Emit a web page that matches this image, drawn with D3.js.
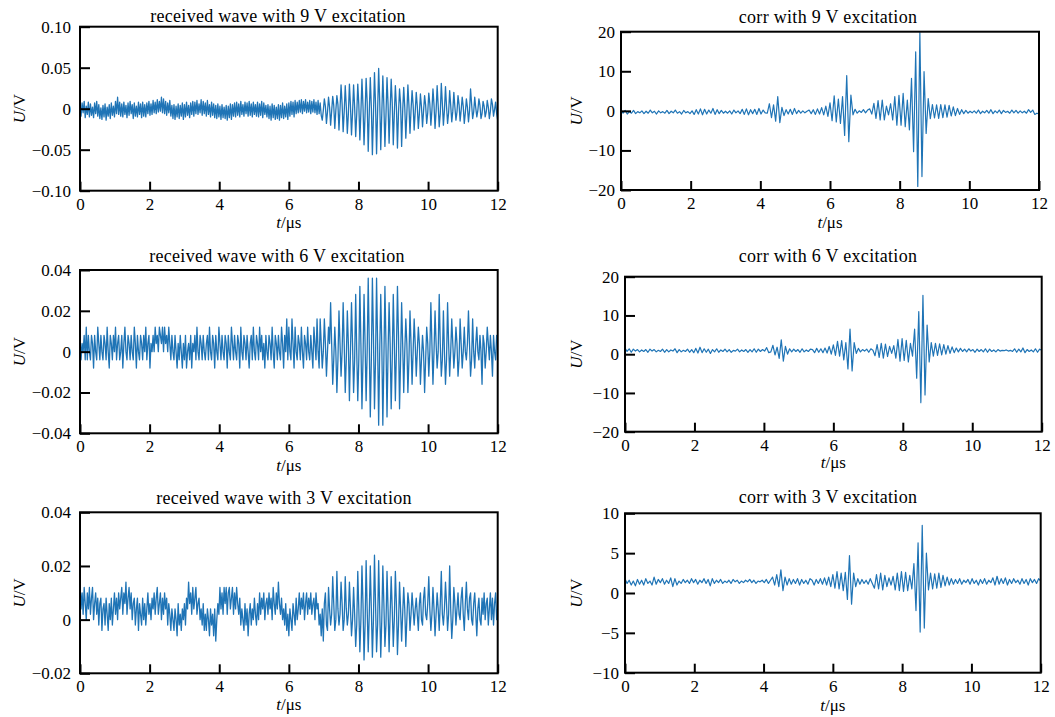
<!DOCTYPE html>
<html>
<head>
<meta charset="utf-8">
<script src="https://cdn.jsdelivr.net/npm/d3@7"></script>
<style>
  body { margin: 0; background: #fff; }
  svg { display: block; }
  svg text { font-family: 'Liberation Serif', 'Times New Roman', serif; fill: #000; }
</style>
</head>
<body>
<svg id="chart" width="1055" height="717"></svg>
<script>
// samples, from 0 to 12 µs
const receivedStep = 0.03 // µs between received samples
const corrStep = 0.06 // µs between correlation samples
const timeTicks = [0, 2, 4, 6, 8, 10, 12]

// received waves, in mV
const received9V = [
  4, -9, 7, -5, 9, -11, 3, -7, 8, -10,
  6, -8, 2, -11, 7, -6, 9, -9, 5, -12,
  1, -13, 4, -10, 6, -14, 2, -9, 5, -12,
  7, -8, 3, -10, 9, -6, 14, -7, 8, -9,
  6, -10, 8, -7, 4, -11, 7, -8, 9, -6,
  5, -12, 7, -9, 3, -10, 8, -7, 6, -11,
  8, -9, 5, -10, 7, -6, 9, -8, 6, -7,
  10, -5, 8, -6, 11, -4, 9, -3, 14, -5,
  12, -6, 9, -8, 7, -5, 10, -9, 4, -12,
  5, -13, 3, -10, 6, -12, 4, -9, 7, -13,
  5, -10, 8, -8, 4, -11, 7, -7, 9, -9,
  8, -6, 10, -7, 6, -5, 11, -8, 9, -6,
  7, -9, 10, -7, 5, -10, 8, -8, 6, -11,
  4, -12, 6, -10, 3, -13, 5, -11, 2, -12,
  4, -14, 3, -11, 6, -13, 5, -9, 7, -10,
  8, -8, 6, -10, 9, -7, 5, -9, 8, -6,
  7, -9, 9, -8, 6, -10, 8, -7, 5, -9,
  8, -10, 6, -8, 9, -11, 7, -7, 4, -10,
  5, -12, 3, -14, 6, -11, 4, -13, 2, -12,
  5, -14, 4, -11, 7, -12, 3, -10, 6, -13,
  7, -9, 9, -7, 8, -10, 10, -6, 8, -5,
  10, -4, 11, -6, 9, -3, 11, -5, 8, -4,
  10, -6, 9, -4, 11, -5, 8, -7, 10, -6,
  7, -8, -14, -2, 12, 3, -18, -4, 14, 2,
  -20, -3, 15, 4, -24, -2, 16, 5, -26, 0,
  29, 6, -28, -4, 28, 3, -30, -6, 30, 4,
  -32, -5, 29, 2, -34, -7, 30, 5, -38, -4,
  36, 3, -44, -6, 37, 8, -52, -5, 38, 2,
  -56, -8, 44, 6, -55, -3, 49, 10, -50, -6,
  40, 4, -46, -8, 38, 5, -42, -2, 36, 7,
  -44, -6, 28, 3, -48, -5, 24, 6, -46, -3,
  26, 2, -36, -6, 29, 4, -30, -2, 22, 5,
  -26, -4, 20, 3, -24, -6, 18, 2, -22, -3,
  16, 4, -18, -5, 19, 6, -20, -2, 24, 5,
  -24, -3, 28, 4, -22, -6, 31, 6, -20, -2,
  27, 3, -18, -5, 22, 4, -16, -3, 20, 2,
  -14, -4, 16, 5, -15, -2, 14, 3, -18, -5,
  12, 2, -16, -3, 24, 6, -12, -4, 14, 1,
  -10, -2, 12, 4, -12, -6, 9, 3, -10, -4,
  10, 2, -12, -3, 12, 5, -9, -1, 8, -6,
  -14
]
const received6V = [
  8, -4, 4, 0, 8, -4, 12, -4, 8, 0,
  -4, 8, 4, -8, 8, 0, -4, 12, 4, -4,
  8, 0, -4, 8, 4, -4, 12, 0, -8, 8,
  4, -4, 8, 0, 12, -4, 4, 8, -4, 0,
  8, -8, 4, 12, 0, -4, 8, 4, -4, 8,
  0, -4, 12, 4, -8, 8, 0, -4, 8, 4,
  -4, 8, 0, 12, -4, 4, 8, -8, 4, 0,
  8, 0, 12, 4, 8, 0, 12, 8, 4, 12,
  0, 12, 4, 8, 0, 12, 4, -4, 8, 0,
  -4, 8, 0, -8, 4, -4, 8, 0, -8, 4,
  -4, 8, -8, 0, 4, -4, 8, -8, 4, 0,
  8, -4, 12, 0, -4, 8, 4, -4, 8, 0,
  -4, 4, 8, -4, 12, 0, -4, 8, 4, -8,
  8, 0, -4, 12, 4, -4, 8, 0, -4, 8,
  4, -8, 8, 0, -4, 12, 4, -4, 8, 0,
  -4, 8, 4, -8, 12, 0, -4, 8, 4, -4,
  8, 0, -8, 4, 8, -4, 12, 0, -4, 8,
  4, -4, 12, 0, 8, -4, 4, -8, 8, 0,
  -4, 8, 4, -4, 12, 0, -8, 8, 4, -4,
  8, 0, -4, 12, 4, -8, 8, 0, 16, -4,
  12, 0, -4, 16, 4, -8, 12, 0, -4, 8,
  4, -4, 12, 0, -8, 8, 4, -4, 12, 0,
  -4, 8, 0, -8, 12, 4, -4, 16, 0, -8,
  16, 4, -8, 0, 16, 4, -12, 0, 12, 4,
  24, 4, -16, -4, 12, 0, -20, -4, 20, 4,
  -12, 0, 24, 4, -20, -4, 20, 4, -24, 0,
  24, 4, -20, -4, 28, 0, -24, -4, 32, 4,
  -28, -4, 28, 4, -24, 0, 36, 4, -32, -4,
  36, 8, -28, -4, 36, 4, -36, 0, 28, 4,
  -36, -4, 32, 4, -32, 0, 24, 4, -28, -4,
  28, 4, -24, 0, 32, 8, -28, -4, 24, 4,
  -20, 0, 16, 4, -20, -4, 20, 4, -16, 0,
  16, 4, -12, 0, 12, 4, -16, -4, 8, 0,
  -20, -4, 12, 4, -12, 0, 24, 4, -16, 0,
  20, 4, -8, 0, 28, 4, -12, -4, 20, 0,
  -16, -4, 24, 4, -12, 0, 16, 4, -8, 0,
  12, 4, -12, -4, 16, 4, -8, 0, 12, 0,
  -4, 4, 20, 4, -12, -4, 16, 0, -8, 4,
  12, 0, -4, 8, 0, -16, 8, 4, -8, 0,
  12, 4, -4, 8, 0, -12, 8, 0, -4, 8,
  4
]
const received3V = [
  14, 4, 10, 2, 12, 6, 0, 10, 4, 12,
  2, 8, 12, 0, 6, 10, 2, 8, -2, 6,
  8, -4, 4, 6, -2, 8, 2, -4, 6, 0,
  8, -2, 4, 10, 2, 8, 0, 10, 4, 8,
  12, 2, 10, 6, 14, 2, 8, 12, 4, 10,
  0, 6, 8, -2, 4, 8, -4, 6, 2, -2,
  8, 0, 6, -2, 4, 10, 2, 6, 0, 8,
  4, 10, 2, 8, 12, 2, 6, 10, 0, 8,
  2, 10, 4, 8, -2, 6, 2, -4, 4, 0,
  -4, 4, 0, -6, 6, -2, 2, -4, 4, 0,
  6, -2, 8, 4, 14, 6, 10, 2, 12, 4,
  8, 12, 2, 6, 8, 0, 4, -2, 6, -4,
  2, -4, 4, 0, -6, 4, -2, 2, -6, 4,
  -8, 0, 6, 2, 12, 4, 10, 2, 12, 6,
  12, 2, 10, 12, 4, 8, 12, 2, 10, 4,
  12, 6, 2, 8, -2, 4, 0, -4, 6, -2,
  4, -6, 2, 6, -2, 4, 0, 8, 2, -2,
  6, 0, 10, 2, 8, 4, 10, 0, 6, 8,
  2, 10, 4, 8, 0, 12, 6, 2, 10, 4,
  14, 6, 2, 8, 0, 4, -2, 6, -4, 2,
  -6, 4, 0, -4, 6, 2, -2, 8, 0, 4,
  10, 2, 8, 4, 10, 0, 6, 10, 2, 8,
  4, 10, 2, 6, 8, 0, 10, 4, 6, -2,
  2, -6, 4, -8, 6, 10, -2, -4, 12, 4,
  -2, 2, 16, 6, -4, 0, 18, 4, -2, 2,
  14, 6, -4, 0, 16, 4, -2, 2, 14, 4,
  -6, 0, 12, 2, -10, -2, 18, 4, -12, 0,
  20, 6, -15, -2, 22, 4, -12, 2, 20, 4,
  -14, 0, 24, 6, -12, -2, 22, 4, -14, 0,
  20, 6, -10, -2, 18, 4, -12, 2, 16, 4,
  -10, 0, 18, 6, -13, -2, 14, 4, -8, 2,
  12, 4, -10, 0, 10, 6, -4, 2, 10, 4,
  -2, 4, 8, 2, -4, 6, 10, 0, -2, 8,
  12, 2, 0, 6, 16, 4, -4, 2, 12, 4,
  -6, 2, 10, 4, -4, 6, 18, 2, -2, 4,
  14, 6, -4, 2, 20, 4, -7, 0, 12, 6,
  -2, 4, 10, 2, 0, 8, 12, 2, -4, 6,
  14, 4, 0, 8, 10, 0, -2, 6, 10, 2,
  -6, 4, 8, 0, -2, 8, 2, 10, 0, 6,
  8, -2, 4, 10, 0, 8, -2, 6, 10, 0,
  4
]

// correlation outputs
const corr9V = [
  0.2, -0.6, 0.1, -0.8, -0.2, -0.6, 0.1, -0.7, -0.2, -0.5,
  0.0, -0.7, -0.1, -0.6, 0.2, -0.5, -0.1, -0.8, 0.0, -0.5,
  -0.2, -0.6, 0.1, -0.7, -0.1, -0.5, 0.2, -0.6, -0.2, -0.8,
  0.1, -0.5, -0.2, -0.7, 0.0, -0.9, 0.3, -0.8, 0.5, -1.0,
  0.4, -0.8, 0.2, -0.6, 0.6, -0.9, 0.3, -0.7, 0.1, -0.6,
  -0.1, -0.6, 0.0, -0.8, 0.2, -0.5, 0.0, -0.7, 0.4, -0.9,
  0.5, -1.0, 0.3, -0.7, 0.4, -0.9, 0.6, -0.8, 0.2, -0.5,
  -0.6, 1.8, -1.7, 1.5, -2.6, 3.6, -3.0, 0.9, -1.2, 0.3,
  -0.8, 0.4, -0.9, 0.6, -0.7, 0.1, -0.6, 0.0, -0.5, -0.1,
  0.2, -0.7, 0.3, -0.9, 0.5, -0.8, 0.8, -1.0, 1.2, -1.4,
  2.0, -2.5, 3.8, -2.8, 3.0, -3.2, 3.6, -6.2, 8.9, -7.8,
  4.0, -1.0, 0.4, -0.6, 0.0, -0.4, 0.3, -0.5, 0.2, 0.5,
  -0.8, 1.9, -1.9, 2.6, -2.3, 2.7, -2.3, 1.2, -1.0, 1.8,
  -2.3, 3.6, -3.6, 3.9, -3.6, 4.4, -4.0, 2.7, -4.8, 8.2,
  -10.3, 14.9, -19.1, 19.8, -16.6, 9.9, -5.7, 3.1, -2.0, 1.6,
  -1.8, 1.5, -1.9, 1.6, -1.7, 1.5, -1.6, 1.4, -1.3, 1.0,
  -1.2, 0.6, -0.9, 0.3, -0.7, 0.1, -0.6, -0.1, -0.5, 0.0,
  -0.6, 0.2, -0.7, -0.1, -0.5, 0.1, -0.6, 0.3, -0.7, 0.0,
  -0.5, 0.2, -0.7, 0.1, -0.4, -0.1, -0.6, 0.2, -0.5, 0.1,
  -0.6, 0.0, -0.5, -0.1, -0.6, 0.3, -0.4, 0.2, -0.9, -0.6,
  -0.8
]
const corr6V = [
  1.6, 0.7, 1.4, 0.5, 1.3, 0.8, 1.2, 0.6, 1.1, 0.7,
  1.2, 0.5, 1.3, 0.8, 1.2, 0.6, 1.0, 0.7, 1.3, 0.5,
  1.2, 0.6, 1.1, 0.8, 1.4, 0.4, 1.2, 0.6, 1.0, 0.7,
  1.3, 0.5, 1.2, 0.4, 1.5, 0.3, 1.8, 0.4, 1.4, 0.5,
  1.3, 0.2, 1.2, 0.6, 1.4, 0.5, 1.1, 0.7, 1.3, 0.6,
  1.2, 0.5, 1.0, 0.8, 1.3, 0.6, 1.1, 0.7, 1.2, 0.5,
  1.2, 0.6, 1.4, 0.5, 1.3, 0.7, 1.2, 0.8, 1.7, 0.4,
  0.6, 2.3, -0.2, 1.8, -1.1, 3.7, -1.8, 2.0, 0.0, 1.4,
  0.6, 1.3, 0.7, 1.2, 0.5, 1.4, 0.6, 1.1, 0.7, 1.3,
  1.2, 0.4, 1.5, 0.5, 1.4, 0.4, 1.6, 0.3, 2.0, 0.0,
  2.4, -0.3, 3.3, -0.5, 3.5, -1.5, 3.0, -3.8, 6.5, -4.3,
  3.0, 0.2, 1.5, 0.6, 1.2, 0.8, 1.3, 0.5, 1.4, 1.0,
  -0.4, 2.5, -0.8, 2.8, -1.0, 2.6, -0.6, 2.0, 0.2, 2.2,
  -1.0, 3.8, -1.8, 4.0, -1.6, 3.6, -2.0, 2.8, -0.5, 6.5,
  -6.2, 11.0, -12.5, 15.2, -10.5, 7.5, -2.0, 3.0, -0.5, 2.8,
  -0.3, 2.7, -0.2, 2.5, 0.0, 2.2, 0.2, 1.9, 0.4, 1.6,
  0.6, 1.5, 0.7, 1.3, 0.6, 1.4, 0.8, 1.2, 0.5, 1.3,
  0.7, 1.2, 0.6, 1.4, 0.5, 1.3, 0.7, 1.1, 0.6, 1.2,
  0.8, 1.0, 0.9, 1.1, 0.8, 1.0, 0.7, 1.4, 0.5, 1.3,
  0.6, 1.6, 0.4, 1.2, 0.7, 1.1, 0.6, 1.4, 0.5, 1.3,
  1.0
]
const corr3V = [
  1.8, 1.2, 1.6, 1.0, 1.5, 0.9, 1.7, 1.1, 1.6, 1.0,
  1.8, 1.2, 1.5, 1.0, 2.0, 1.1, 1.7, 1.3, 1.8, 1.1,
  1.6, 1.2, 1.9, 0.8, 1.8, 1.0, 1.5, 1.2, 1.7, 1.3,
  1.6, 1.2, 1.8, 1.3, 1.7, 1.1, 1.6, 1.3, 1.8, 1.2,
  1.7, 0.9, 1.8, 1.2, 1.6, 1.3, 1.7, 1.2, 1.5, 1.3,
  1.6, 1.2, 1.7, 1.4, 1.6, 1.2, 1.5, 1.3, 1.6, 1.4,
  1.7, 1.3, 1.6, 1.2, 1.5, 1.4, 1.6, 1.3, 1.7, 1.2,
  1.6, 2.0, 1.0, 2.3, 0.8, 2.9, 0.3, 2.0, 1.0, 1.8,
  1.1, 1.7, 1.2, 1.8, 1.0, 1.7, 1.2, 1.6, 1.1, 1.8,
  1.6, 1.0, 1.7, 1.2, 1.8, 1.1, 1.9, 1.0, 2.0, 0.8,
  2.3, 0.6, 2.7, 0.5, 2.5, 0.3, 2.6, -0.8, 4.7, -1.4,
  2.5, 0.8, 1.8, 1.1, 1.7, 1.2, 1.6, 1.1, 1.8, 1.2,
  0.6, 2.3, 0.5, 2.5, 0.4, 2.2, 0.8, 1.9, 1.0, 2.1,
  0.4, 2.5, 0.3, 2.7, 0.2, 2.6, 0.3, 2.2, 0.5, 3.7,
  -2.2, 6.3, -4.9, 8.5, -4.4, 5.0, 0.4, 2.5, 0.5, 2.4,
  0.6, 2.5, 0.7, 2.2, 0.9, 2.0, 1.0, 1.8, 1.1, 1.7,
  1.2, 1.8, 1.1, 1.6, 1.3, 1.7, 1.1, 1.8, 1.2, 1.6,
  1.0, 1.7, 1.2, 1.8, 1.1, 1.6, 1.3, 1.9, 1.0, 2.1,
  1.1, 1.8, 1.2, 1.9, 1.0, 1.7, 1.2, 1.8, 1.3, 1.6,
  1.1, 1.8, 1.2, 1.7, 1.0, 1.8, 1.3, 1.7, 1.2, 1.8,
  1.5
]

const ticks9V = [-0.1, -0.05, 0, 0.05, 0.1]
const ticks6V = [-0.04, -0.02, 0, 0.02, 0.04]
const ticks3V = [-0.02, 0, 0.02, 0.04]
const corrTicks = [-20, -10, 0, 10, 20]
const corrTicks3V = [-10, -5, 0, 5, 10]

const titles = [
  'received wave with 9 V excitation', 'corr with 9 V excitation',
  'received wave with 6 V excitation', 'corr with 6 V excitation',
  'received wave with 3 V excitation', 'corr with 3 V excitation'
]

const voltFormat = d => d === 0 ? '0' : d3.format('.2f')(d)
const corrFormat = d3.format('d')

const panels = [
  { title: titles[0], values: received9V, step: receivedStep, scale: 1000, domain: [-0.1, 0.1], ticks: ticks9V, fmt: voltFormat, stroke: 1.3, x: 80, y: 26.7, w: 417.7, h: 164, titleX: 278, titleY: 22, yLabelX: 25, xLabelY: 228, pad: 9 },
  { title: titles[1], values: corr9V, step: corrStep, scale: 1, domain: [-20, 20], ticks: corrTicks, fmt: corrFormat, stroke: 1.2, x: 621, y: 31.7, w: 418, h: 158.3, titleX: 828, titleY: 22.5, yLabelX: 582, xLabelY: 228, pad: 6 },
  { title: titles[2], values: received6V, step: receivedStep, scale: 1000, domain: [-0.04, 0.04], ticks: ticks6V, fmt: voltFormat, stroke: 1.3, x: 80, y: 270, w: 417.7, h: 163.3, titleX: 277, titleY: 261.5, yLabelX: 25, xLabelY: 471, pad: 9 },
  { title: titles[3], values: corr6V, step: corrStep, scale: 1, domain: [-20, 20], ticks: corrTicks, fmt: corrFormat, stroke: 1.2, x: 625, y: 276.7, w: 416.7, h: 155, titleX: 828, titleY: 261.5, yLabelX: 582, xLabelY: 468, pad: 6 },
  { title: titles[4], values: received3V, step: receivedStep, scale: 1000, domain: [-0.02, 0.04], ticks: ticks3V, fmt: voltFormat, stroke: 1.3, x: 80, y: 512.3, w: 417.7, h: 161, titleX: 284, titleY: 504, yLabelX: 25, xLabelY: 710, pad: 9 },
  { title: titles[5], values: corr3V, step: corrStep, scale: 1, domain: [-10, 10], ticks: corrTicks3V, fmt: corrFormat, stroke: 1.2, x: 625, y: 513.3, w: 415.7, h: 159.4, titleX: 828, titleY: 502.5, yLabelX: 582, xLabelY: 711, pad: 6 }
]

const svg = d3.select('#chart')

panels.forEach((p, k) => {
  const g = svg.append('g')
    .attr('transform', `translate(${p.x},${p.y})`)
  const xScale = d3.scaleLinear().domain([0, 12]).range([0, p.w])
  const yScale = d3.scaleLinear().domain(p.domain).range([p.h, 0])

  g.append('clipPath')
    .attr('id', 'clip' + k)
    .append('rect')
    .attr('width', p.w)
    .attr('height', p.h)

  const line = d3.line()
    .x((d, i) => xScale(i * p.step))
    .y(d => yScale(d / p.scale))
  g.append('path')
    .datum(p.values)
    .attr('clip-path', `url(#clip${k})`)
    .attr('fill', 'none')
    .attr('stroke', '#1f74b6')
    .attr('stroke-width', p.stroke)
    .attr('stroke-linejoin', 'round')
    .attr('d', line)

  // ticks point inwards, like the original
  const xAxis = g.append('g')
    .attr('transform', `translate(0,${p.h})`)
    .call(d3.axisBottom(xScale).tickValues(timeTicks).tickSize(-9).tickPadding(7))
  const yAxis = g.append('g')
    .call(d3.axisLeft(yScale).tickValues(p.ticks).tickFormat(p.fmt).tickSize(-10).tickPadding(p.pad))
  ;[xAxis, yAxis].forEach(a => {
    a.select('.domain').remove()
    a.attr('font-family', null).attr('font-size', null)
    a.selectAll('line').attr('stroke', '#000').attr('stroke-width', 2)
    a.selectAll('text').attr('fill', '#000').style('font-size', '17px')
  })

  g.append('rect')
    .attr('width', p.w)
    .attr('height', p.h)
    .attr('fill', 'none')
    .attr('stroke', '#000')
    .attr('stroke-width', 2)

  svg.append('text')
    .attr('x', p.titleX)
    .attr('y', p.titleY)
    .attr('text-anchor', 'middle')
    .style('font-size', '18px')
    .style('letter-spacing', '0.3px')
    .text(p.title)

  const yLabel = svg.append('text')
    .attr('transform', `translate(${p.yLabelX},${p.y + p.h / 2}) rotate(-90)`)
    .attr('text-anchor', 'middle')
    .style('font-size', '17px')
  yLabel.append('tspan').style('font-style', 'italic').text('U')
  yLabel.append('tspan').text('/V')

  const xLabel = svg.append('text')
    .attr('x', p.x + p.w / 2)
    .attr('y', p.xLabelY)
    .attr('text-anchor', 'middle')
    .style('font-size', '17px')
  xLabel.append('tspan').style('font-style', 'italic').text('t')
  xLabel.append('tspan').text('/μs')
})
</script>
</body>
</html>
